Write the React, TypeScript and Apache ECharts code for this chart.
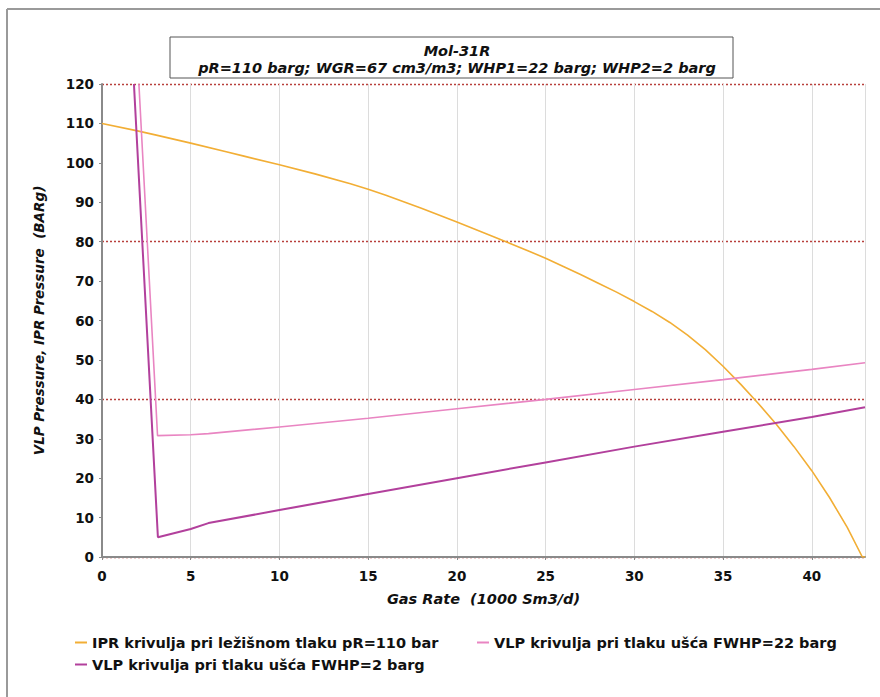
import React, { useEffect, useRef } from "react";
import * as echarts from "echarts";

const IPR_NAME = "IPR krivulja pri ležišnom tlaku pR=110 bar";
const VLP22_NAME = "VLP krivulja pri tlaku ušća FWHP=22 barg";
const VLP2_NAME = "VLP krivulja pri tlaku ušća FWHP=2 barg";

const iprData: [number, number][] = [
  [0, 110], [2, 108.1], [3, 107.1], [5, 105.0], [7, 102.8], [8, 101.7], [10, 99.5], [12, 97.2],
  [14, 94.7], [15, 93.3], [16, 91.8], [18, 88.5], [20, 85], [22, 81.4], [24, 77.7], [25, 75.8],
  [26, 73.7], [27, 71.6], [28, 69.4], [29, 67.2], [30, 64.8], [31, 62.3],
  [32, 59.5], [33, 56.3], [34, 52.6], [35, 48.4], [36, 43.8], [37, 38.9], [38, 33.7],
  [39, 28.0], [40, 21.9], [41, 15.1], [42, 7.5], [42.85, 0], [43, 0],
];
const vlp22Data: [number, number][] = [
  [2.08, 120], [3.13, 30.8], [5, 31], [6, 31.3], [10, 33], [15, 35.2], [20, 37.6],
  [25, 40], [30, 42.5], [35, 45], [40, 47.6], [43, 49.3],
];
const vlp2Data: [number, number][] = [
  [1.8, 120], [3.15, 5], [5, 7.1], [6, 8.6], [10, 11.9], [15, 16], [20, 20],
  [25, 24], [30, 28], [35, 31.8], [40, 35.5], [43, 38],
];

const titleText = "Mol-31R";
const subtitleText = "pR=110 barg; WGR=67 cm3/m3; WHP1=22 barg; WHP2=2 barg";
const xName = "Gas Rate  (1000 Sm3/d)";
const yName = "VLP Pressure, IPR Pressure  (BARg)";

const FONT = "DejaVu Sans, Verdana, sans-serif";

export default function App() {
  const ref = useRef<HTMLDivElement>(null);
  useEffect(() => {
    if (!ref.current) return;
    const chart = echarts.init(ref.current, undefined, { renderer: "svg" });
    const legendText = { fontFamily: FONT, fontWeight: "bold" as const, fontSize: 14.5, color: "#111" };
    chart.setOption({
      animation: false,
      backgroundColor: "#fff",
      title: {
        text: titleText,
        subtext: subtitleText,
        left: 452,
        top: 38,
        textAlign: "center",
        itemGap: 2,
        textStyle: { fontFamily: FONT, fontWeight: "bold", fontStyle: "italic", fontSize: 14.5, color: "#111" },
        subtextStyle: { fontFamily: FONT, fontWeight: "bold", fontStyle: "italic", fontSize: 14.5, color: "#111" },
      },
      graphic: [
        { type: "line", shape: { x1: 7, y1: 9, x2: 880, y2: 9 }, style: { stroke: "#9a9a9a", lineWidth: 2 } },
        { type: "line", shape: { x1: 7, y1: 9, x2: 7, y2: 697 }, style: { stroke: "#9a9a9a", lineWidth: 2 } },
        { type: "rect", z: -1, shape: { x: 170, y: 37, width: 563, height: 41 }, style: { fill: "#fff", stroke: "#555", lineWidth: 1 } },
      ],
      legend: [
        { data: [IPR_NAME], left: 70, top: 630, icon: "rect", itemWidth: 12, itemHeight: 2, textStyle: legendText },
        { data: [VLP22_NAME], left: 472, top: 630, icon: "rect", itemWidth: 12, itemHeight: 2, textStyle: legendText },
        { data: [VLP2_NAME], left: 70, top: 652, icon: "rect", itemWidth: 12, itemHeight: 2, textStyle: legendText },
      ],
      grid: { left: 102, top: 84, right: 15, bottom: 140, containLabel: false },
      xAxis: {
        type: "value",
        min: 0,
        max: 43,
        interval: 5,
        name: xName,
        nameLocation: "middle",
        nameGap: 34,
        nameTextStyle: { fontFamily: FONT, fontWeight: "bold", fontStyle: "italic", fontSize: 14.5, color: "#111" },
        axisLine: { show: true, lineStyle: { color: "#8a8a8a", width: 2 } },
        axisTick: { show: true, length: 3, lineStyle: { color: "#8a8a8a" } },
        axisLabel: { fontFamily: FONT, fontWeight: "bold", fontSize: 13.5, color: "#111", margin: 12, showMaxLabel: false },
        splitLine: { show: true, lineStyle: { color: "#dcdcdc", width: 1 } },
      },
      yAxis: [
        {
          type: "value",
          min: 0,
          max: 120,
          interval: 10,
          name: yName,
          nameLocation: "middle",
          nameGap: 56,
          nameTextStyle: { fontFamily: FONT, fontWeight: "bold", fontStyle: "italic", fontSize: 13.5, color: "#111" },
          axisLine: { show: true, lineStyle: { color: "#8a8a8a", width: 2 } },
          axisTick: { show: true, length: 3, lineStyle: { color: "#8a8a8a" } },
          axisLabel: { fontFamily: FONT, fontWeight: "bold", fontSize: 13.5, color: "#111", margin: 8 },
          splitLine: { show: false },
        },
        {
          type: "value",
          min: 0,
          max: 120,
          interval: 40,
          position: "left",
          axisLine: { show: false },
          axisTick: { show: false },
          axisLabel: { show: false },
          splitLine: { show: true, lineStyle: { color: "#b8403c", width: 1.3, type: [2, 2] } },
        },
      ],
      series: [
        {
          name: IPR_NAME, type: "line", data: iprData, smooth: false, symbol: "none",
          color: "#f2ae35", lineStyle: { width: 1.6, color: "#f2ae35" }, z: 3,
        },
        {
          name: VLP22_NAME, type: "line", data: vlp22Data, symbol: "none",
          color: "#e985c2", lineStyle: { width: 1.6, color: "#e985c2" }, z: 3,
        },
        {
          name: VLP2_NAME, type: "line", data: vlp2Data, symbol: "none",
          color: "#b2409c", lineStyle: { width: 2, color: "#b2409c" }, z: 4,
        },
      ],
    });
    return () => chart.dispose();
  }, []);
  return (
    <div
      ref={ref}
      style={{ position: "absolute", left: 0, top: 0, width: 880, height: 697 }}
    />
  );
}
